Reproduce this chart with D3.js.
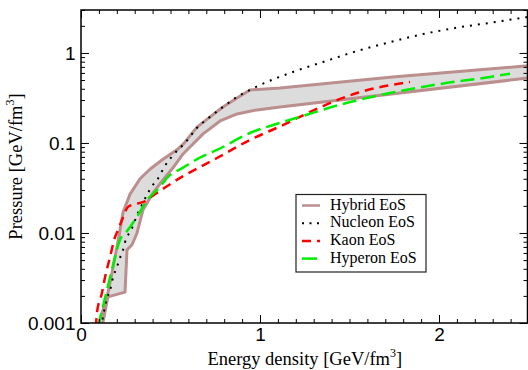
<!DOCTYPE html>
<html lang="en">
<head>
  <meta charset="UTF-8">
  <title>Equation of state</title>
  <script src="https://d3js.org/d3.v7.min.js"></script>
  <style>
    body {
      margin: 0;
      background: #fff;
    }
    svg {
      display: block;
      font-family: "Liberation Serif", "Times New Roman", serif;
    }
  </style>
</head>
<body>
  <svg id="chart" width="528" height="370"></svg>

  <script>
// energy density and pressure, both GeV/fm^3
const hybridUpperE = [0.095, 0.101, 0.145, 0.173, 0.201, 0.215, 0.235, 0.274, 0.330, 0.385, 0.458, 0.536, 0.575, 0.648, 0.721, 0.793, 0.872, 0.944, 1.112, 1.74, 2.52];
const hybridUpperP = [0.0009, 0.00103, 0.0019, 0.0036, 0.0070, 0.010, 0.017, 0.027, 0.040, 0.051, 0.066, 0.084, 0.099, 0.150, 0.195, 0.251, 0.316, 0.388, 0.407, 0.54, 0.725];

const hybridLowerE = [0.12, 0.123, 0.15, 0.246, 0.257, 0.285, 0.313, 0.346, 0.402, 0.458, 0.514, 0.570, 0.609, 0.682, 0.777, 0.872, 0.983, 1.112, 2.52];
const hybridLowerP = [0.0009, 0.00103, 0.00195, 0.0022, 0.0065, 0.0074, 0.010, 0.018, 0.0278, 0.0388, 0.053, 0.0755, 0.0903, 0.126, 0.1755, 0.210, 0.233, 0.251, 0.533];

const nucleonE = [0.11, 0.117, 0.145, 0.162, 0.179, 0.201, 0.218, 0.235, 0.246, 0.285, 0.318, 0.335, 0.374, 0.397, 0.425, 0.469, 0.525, 0.581, 0.648, 0.721, 0.793, 0.872, 0.944, 1.0, 1.168, 1.352, 1.542, 1.726, 1.911, 2.101, 2.285, 2.497];
const nucleonP = [0.0009, 0.00103, 0.0019, 0.0023, 0.0032, 0.0042, 0.0053, 0.0065, 0.0079, 0.0113, 0.0167, 0.0195, 0.0278, 0.0332, 0.0388, 0.0556, 0.0774, 0.100, 0.147, 0.195, 0.251, 0.325, 0.388, 0.44, 0.599, 0.794, 1.05, 1.32, 1.62, 1.91, 2.16, 2.51];

const kaonE = [0.083, 0.089, 0.117, 0.134, 0.162, 0.190, 0.207, 0.229, 0.263, 0.302, 0.346, 0.413, 0.480, 0.570, 0.665, 0.760, 0.944, 1.128, 1.223, 1.352, 1.542, 1.838];
const kaonP = [0.0009, 0.0013, 0.00215, 0.0032, 0.0054, 0.009, 0.0108, 0.0139, 0.0195, 0.021, 0.022, 0.027, 0.033, 0.0429, 0.054, 0.0681, 0.108, 0.158, 0.195, 0.257, 0.359, 0.476];

const hyperonE = [0.096, 0.134, 0.162, 0.190, 0.218, 0.257, 0.313, 0.369, 0.441, 0.480, 0.570, 0.665, 0.760, 0.944, 1.128, 1.223, 1.447, 1.726, 2.006, 2.285, 2.397];
const hyperonP = [0.0009, 0.0019, 0.0032, 0.0054, 0.0084, 0.0105, 0.0151, 0.0232, 0.0324, 0.0408, 0.0532, 0.0688, 0.0836, 0.129, 0.171, 0.195, 0.266, 0.359, 0.452, 0.541, 0.588];

const xTickValues = [0, 1, 2];
const yTickValues = [0.001, 0.01, 0.1, 1];
const yTickLabels = ["0.001", "0.01", "0.1", "1"];
const legendNames = ["Hybrid EoS", "Nucleon EoS", "Kaon EoS", "Hyperon EoS"];

const svg = d3.select("#chart");
const width = +svg.attr("width");
const height = +svg.attr("height");
const pLeft = 81, pTop = 10, pRight = 528.5, pBottom = 323;

const x = d3.scaleLinear().domain([0, 2.5]).range([pLeft, pRight]);
const y = d3.scaleLog().domain([0.001, 3]).range([pBottom, pTop]);

svg.append("rect").attr("width", width).attr("height", height).attr("fill", "#fff");

svg.append("clipPath").attr("id", "plotClip")
  .append("rect")
  .attr("x", pLeft).attr("y", pTop)
  .attr("width", pRight - pLeft).attr("height", pBottom - pTop);

const pts = (es, ps) => es.map((e, i) => [e, ps[i]]);
const line = d3.line().x(d => x(d[0])).y(d => y(d[1]));
const smooth = d3.line().x(d => x(d[0])).y(d => y(d[1])).curve(d3.curveMonotoneX);

const plot = svg.append("g").attr("clip-path", "url(#plotClip)");

// hybrid band
const upper = pts(hybridUpperE, hybridUpperP);
const lower = pts(hybridLowerE, hybridLowerP);
plot.append("path")
  .attr("d", line(upper.concat(lower.slice().reverse())))
  .attr("fill", "#dcdcdc")
  .attr("stroke", "none");
[upper, lower].forEach(b => {
  plot.append("path")
    .attr("d", line(b))
    .attr("fill", "none")
    .attr("stroke", "#bc8f8f")
    .attr("stroke-width", 3)
    .attr("stroke-linejoin", "round");
});

const series = [
  { e: nucleonE, p: nucleonP, color: "#000", width: 2, dash: "2 6" },
  { e: kaonE, p: kaonP, color: "#ff0000", width: 2.5, dash: "9 6" },
  { e: hyperonE, p: hyperonP, color: "#00ee00", width: 2.5, dash: "14 6" }
];

series.forEach(s => {
  plot.append("path")
    .attr("d", smooth(pts(s.e, s.p)))
    .attr("fill", "none")
    .attr("stroke", s.color)
    .attr("stroke-width", s.width)
    .attr("stroke-dasharray", s.dash);
});

// axes, ticks pointing inward on all four sides
const xMinor = d3.range(1, 25).filter(i => i % 10 !== 0).map(i => i / 10);
const yMinor = [];
[0.001, 0.01, 0.1, 1].forEach(d => {
  for (let k = 2; k <= 9; k++) if (d * k <= 3) yMinor.push(d * k);
});

function styleAxis(g) {
  g.select(".domain").remove();
  g.selectAll("line").attr("stroke", "#000").attr("stroke-width", 1);
  g.selectAll("text").attr("font-size", "19px").attr("fill", "#000");
}

svg.append("g").attr("transform", `translate(0,${pBottom})`)
  .call(d3.axisBottom(x).tickValues(xTickValues).tickSize(-8).tickPadding(5).tickFormat(d3.format("d")))
  .call(styleAxis);
svg.append("g").attr("transform", `translate(0,${pBottom})`)
  .call(d3.axisBottom(x).tickValues(xMinor).tickSize(-4).tickFormat(""))
  .call(styleAxis);
svg.append("g").attr("transform", `translate(0,${pTop})`)
  .call(d3.axisTop(x).tickValues(xTickValues).tickSize(-8).tickFormat(""))
  .call(styleAxis);
svg.append("g").attr("transform", `translate(0,${pTop})`)
  .call(d3.axisTop(x).tickValues(xMinor).tickSize(-4).tickFormat(""))
  .call(styleAxis);

svg.append("g").attr("transform", `translate(${pLeft},0)`)
  .call(d3.axisLeft(y).tickValues(yTickValues).tickSize(-8).tickPadding(5.5)
    .tickFormat((d, i) => yTickLabels[i]))
  .call(styleAxis);
svg.append("g").attr("transform", `translate(${pLeft},0)`)
  .call(d3.axisLeft(y).tickValues(yMinor).tickSize(-4).tickFormat(""))
  .call(styleAxis);
svg.append("g").attr("transform", `translate(${pRight - 1},0)`)
  .call(d3.axisRight(y).tickValues(yTickValues).tickSize(-8).tickFormat(""))
  .call(styleAxis);
svg.append("g").attr("transform", `translate(${pRight - 1},0)`)
  .call(d3.axisRight(y).tickValues(yMinor).tickSize(-4).tickFormat(""))
  .call(styleAxis);

svg.append("rect")
  .attr("x", pLeft).attr("y", pTop)
  .attr("width", pRight - 1 - pLeft).attr("height", pBottom - pTop)
  .attr("fill", "none")
  .attr("stroke", "#000")
  .attr("stroke-width", 1.5);

// axis titles
const xTitle = svg.append("text")
  .attr("x", (pLeft + pRight) / 2)
  .attr("y", 365)
  .attr("text-anchor", "middle")
  .attr("font-size", "18.5px");
xTitle.append("tspan").text("Energy density [GeV/fm");
xTitle.append("tspan").attr("font-size", "12px").attr("dy", -8).text("3");
xTitle.append("tspan").attr("dy", 8).text("]");

const yTitle = svg.append("text")
  .attr("transform", `translate(22,${(pTop + pBottom) / 2}) rotate(-90)`)
  .attr("text-anchor", "middle")
  .attr("font-size", "18.5px");
yTitle.append("tspan").text("Pressure [GeV/fm");
yTitle.append("tspan").attr("font-size", "12px").attr("dy", -8).text("3");
yTitle.append("tspan").attr("dy", 8).text("]");

// legend
const legend = svg.append("g");
legend.append("rect")
  .attr("x", 296).attr("y", 194.5)
  .attr("width", 130).attr("height", 77.5)
  .attr("fill", "#fff")
  .attr("stroke", "#222")
  .attr("stroke-width", 1.2);

const legendStyles = [
  { color: "#bc8f8f", width: 2.5, dash: null },
  { color: "#000", width: 2, dash: "2 5.5" },
  { color: "#ff0000", width: 2.5, dash: "9 6" },
  { color: "#00ee00", width: 2.5, dash: "15 6" }
];

legendNames.forEach((name, i) => {
  const base = 209.5 + i * 17.7;
  const st = legendStyles[i];
  legend.append("line")
    .attr("x1", 302).attr("x2", 320)
    .attr("y1", base - 4).attr("y2", base - 4)
    .attr("stroke", st.color)
    .attr("stroke-width", st.width)
    .attr("stroke-dasharray", st.dash);
  legend.append("text")
    .attr("x", 330)
    .attr("y", base)
    .attr("font-size", "16px")
    .text(name);
});
  </script>
</body>
</html>
